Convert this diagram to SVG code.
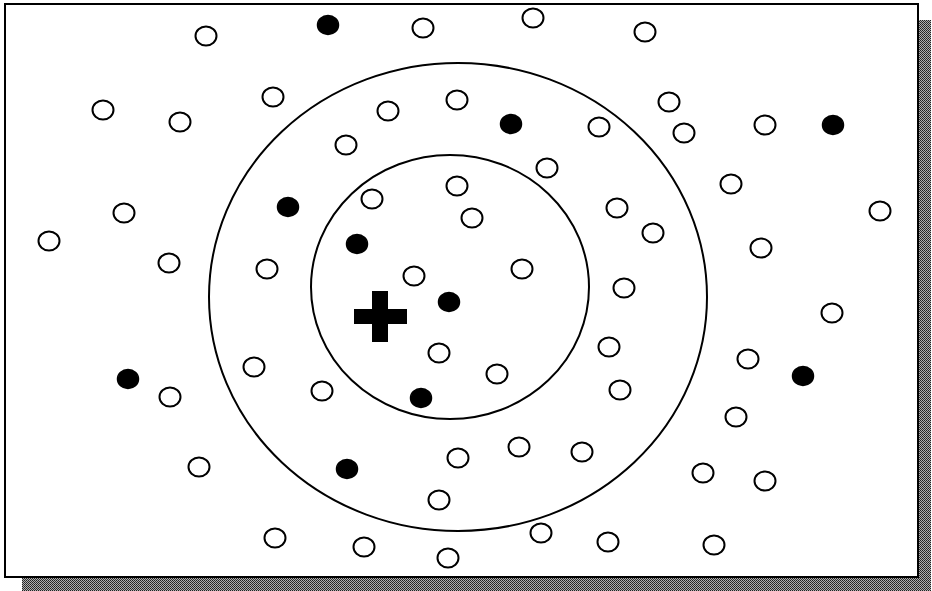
<svg xmlns="http://www.w3.org/2000/svg" width="932" height="591" viewBox="0 0 932 591">
<style>
.o{fill:#fff;stroke:#000;stroke-width:2}
.f{fill:#000;stroke:#000;stroke-width:1.5}
.ring{fill:none;stroke:#000;stroke-width:2}
</style>
<defs>
<pattern id="dither" width="2" height="2" patternUnits="userSpaceOnUse">
<rect width="2" height="2" fill="#b0b0b0"/>
<rect width="1" height="1" fill="#222"/>
<rect x="1" y="1" width="1" height="1" fill="#333"/>
</pattern>
<ellipse id="p" rx="10.5" ry="9.5"/>
</defs>
<rect width="932" height="591" fill="#fff"/>
<g id="shadow" fill="url(#dither)">
<rect x="918" y="20" width="13" height="571"/>
<rect x="22" y="577" width="909" height="14"/>
</g>
<g id="frame"><rect x="5" y="4" width="913" height="573" fill="#fff" stroke="#000" stroke-width="2"/></g>
<g id="outer-circle"><ellipse class="ring" cx="458" cy="297" rx="249" ry="234"/></g>
<g id="inner-circle"><ellipse class="ring" cx="450" cy="287" rx="139" ry="132"/></g>
<g id="query-point"><path d="M372 291h16v18h19v15h-19v18h-16v-18h-18v-15h18z" fill="#000"/></g>
<g id="open-points">
<use href="#p" class="o" x="206" y="36"/>
<use href="#p" class="o" x="423" y="28"/>
<use href="#p" class="o" x="533" y="18"/>
<use href="#p" class="o" x="645" y="32"/>
<use href="#p" class="o" x="103" y="110"/>
<use href="#p" class="o" x="180" y="122"/>
<use href="#p" class="o" x="273" y="97"/>
<use href="#p" class="o" x="388" y="111"/>
<use href="#p" class="o" x="457" y="100"/>
<use href="#p" class="o" x="599" y="127"/>
<use href="#p" class="o" x="669" y="102"/>
<use href="#p" class="o" x="684" y="133"/>
<use href="#p" class="o" x="765" y="125"/>
<use href="#p" class="o" x="346" y="145"/>
<use href="#p" class="o" x="547" y="168"/>
<use href="#p" class="o" x="731" y="184"/>
<use href="#p" class="o" x="124" y="213"/>
<use href="#p" class="o" x="372" y="199"/>
<use href="#p" class="o" x="457" y="186"/>
<use href="#p" class="o" x="472" y="218"/>
<use href="#p" class="o" x="617" y="208"/>
<use href="#p" class="o" x="653" y="233"/>
<use href="#p" class="o" x="880" y="211"/>
<use href="#p" class="o" x="49" y="241"/>
<use href="#p" class="o" x="169" y="263"/>
<use href="#p" class="o" x="267" y="269"/>
<use href="#p" class="o" x="414" y="276"/>
<use href="#p" class="o" x="522" y="269"/>
<use href="#p" class="o" x="761" y="248"/>
<use href="#p" class="o" x="624" y="288"/>
<use href="#p" class="o" x="832" y="313"/>
<use href="#p" class="o" x="439" y="353"/>
<use href="#p" class="o" x="609" y="347"/>
<use href="#p" class="o" x="748" y="359"/>
<use href="#p" class="o" x="254" y="367"/>
<use href="#p" class="o" x="497" y="374"/>
<use href="#p" class="o" x="170" y="397"/>
<use href="#p" class="o" x="322" y="391"/>
<use href="#p" class="o" x="620" y="390"/>
<use href="#p" class="o" x="736" y="417"/>
<use href="#p" class="o" x="199" y="467"/>
<use href="#p" class="o" x="458" y="458"/>
<use href="#p" class="o" x="519" y="447"/>
<use href="#p" class="o" x="582" y="452"/>
<use href="#p" class="o" x="703" y="473"/>
<use href="#p" class="o" x="765" y="481"/>
<use href="#p" class="o" x="439" y="500"/>
<use href="#p" class="o" x="275" y="538"/>
<use href="#p" class="o" x="364" y="547"/>
<use href="#p" class="o" x="448" y="558"/>
<use href="#p" class="o" x="541" y="533"/>
<use href="#p" class="o" x="608" y="542"/>
<use href="#p" class="o" x="714" y="545"/>
</g>
<g id="filled-points">
<use href="#p" class="f" x="328" y="25"/>
<use href="#p" class="f" x="511" y="124"/>
<use href="#p" class="f" x="833" y="125"/>
<use href="#p" class="f" x="288" y="207"/>
<use href="#p" class="f" x="357" y="244"/>
<use href="#p" class="f" x="449" y="302"/>
<use href="#p" class="f" x="128" y="379"/>
<use href="#p" class="f" x="421" y="398"/>
<use href="#p" class="f" x="803" y="376"/>
<use href="#p" class="f" x="347" y="469"/>
</g>
</svg>
